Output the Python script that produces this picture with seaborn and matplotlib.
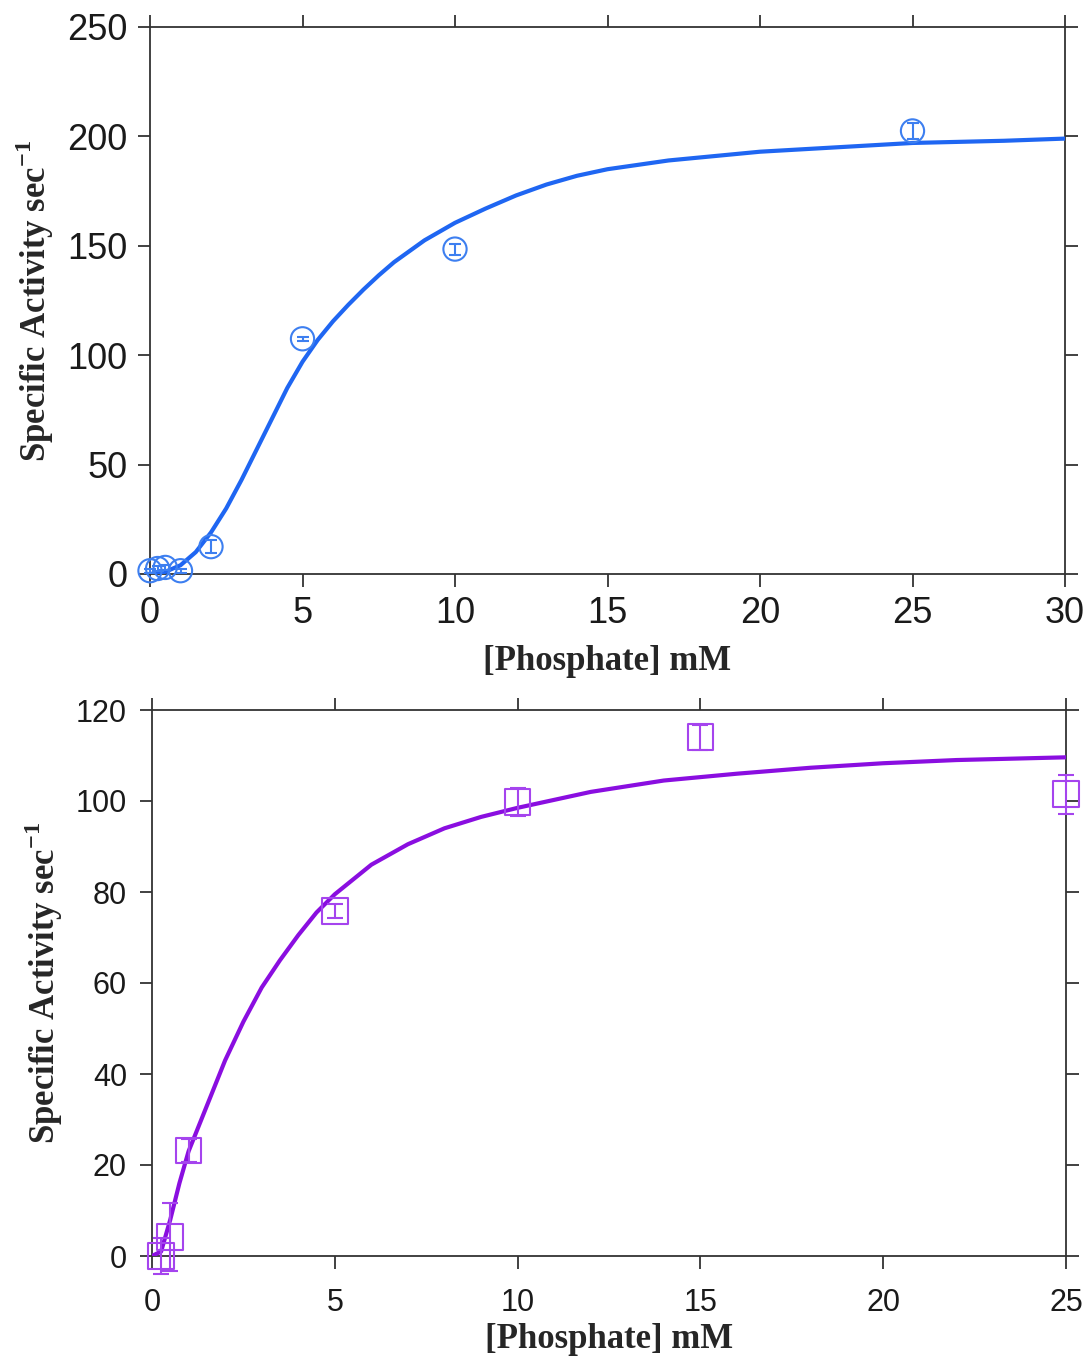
import numpy as np
import pandas as pd
import seaborn as sns
import matplotlib.pyplot as plt

top_x = [0, 0.25, 0.5, 1, 2, 5, 10, 25]
top_y = [1.5, 2.5, 3, 1.5, 12.5, 107.5, 148.5, 202.5]
top_err = [1, 1, 1, 1, 3, 1, 2.5, 3.5]
top_fit_x = [0, 0.5, 1, 1.5, 2, 2.5, 3, 3.5, 4, 4.5, 5, 5.5, 6, 6.5, 7, 7.5, 8, 9, 10,
             11, 12, 13, 14, 15, 17, 20, 22.5, 25, 28, 30]
top_fit_y = [0, 1, 4, 10, 19, 30, 43, 57, 71, 85, 97, 107, 115.5, 123, 130, 136.5, 142.5, 152.5, 160.5,
             167, 173, 178, 182, 185, 189, 193, 195, 197, 198, 199]

# bottom panel
bot_x = [0.25, 0.5, 1, 5, 10, 15, 25]
bot_y = [0, 4.2, 23.2, 75.8, 99.8, 114, 101.5]
bot_err = [4, 7.4, 2.5, 1.5, 3, 2.8, 4.3]
bot_fit_x = [0, 0.25, 0.5, 0.75, 1, 1.5, 2, 2.5, 3, 3.5, 4, 4.5, 5, 6, 7, 8, 9, 10,
             12, 14, 16, 18, 20, 22, 25]
bot_fit_y = [0, 1, 8, 16, 23, 33, 43, 51.5, 59, 65, 70.5, 75.5, 79.5, 86, 90.5, 94, 96.5, 98.5,
             102, 104.5, 106, 107.3, 108.3, 109, 109.6]

sns.set_style("ticks")
plt.rcParams['font.family'] = ['Liberation Sans', 'DejaVu Sans']
plt.rcParams['mathtext.fontset'] = 'custom'
plt.rcParams['mathtext.rm'] = 'Liberation Serif:bold'
plt.rcParams['mathtext.bf'] = 'Liberation Serif:bold'

blue = '#1f66f2'
blue_pt = '#3d7ff0'
purple = '#8a0ee0'
purple_pt = '#a544ee'

W, H = 1087, 1357
fig = plt.figure(figsize=(W / 100, H / 100), dpi=100)
ax1 = fig.add_axes([150 / W, 1 - 574 / H, (1065 - 150) / W, (574 - 27) / H])
ax2 = fig.add_axes([152 / W, 1 - 1256 / H, (1066 - 152) / W, (1256 - 710) / H])

ylab = r'Specific Activity sec$^{-1}$'
label_font = dict(family='Liberation Serif', weight='bold', size=25)


def style_axis(ax, tick_size, pad):
    for s in ax.spines.values():
        s.set_color('#333333')
        s.set_linewidth(1.3)
    ax.tick_params(which='both', direction='out', top=True, right=True,
                   length=9, width=1.3, color='#333333',
                   labelsize=tick_size, labelcolor='#1a1a1a', pad=pad)


# top
df_fit = pd.DataFrame({'x': top_fit_x, 'y': top_fit_y})
sns.lineplot(data=df_fit, x='x', y='y', ax=ax1, color=blue, lw=3, zorder=3)
ax1.errorbar(top_x, top_y, yerr=top_err, fmt='none', ecolor=blue_pt,
             elinewidth=1.5, capsize=4, capthick=1.5, zorder=4, clip_on=False)
sns.scatterplot(x=top_x, y=top_y, ax=ax1, marker='o', s=280, facecolor='none',
                edgecolor=blue_pt, linewidth=1.5, zorder=5, clip_on=False)
ax1.set_xlim(0, 30)
ax1.set_ylim(0, 250)
ax1.set_xticks([0, 5, 10, 15, 20, 25, 30])
ax1.set_yticks([0, 50, 100, 150, 200, 250])
style_axis(ax1, 26, 7)
ax1.set_xlabel('[Phosphate] mM', fontdict=label_font, labelpad=10)
ax1.set_ylabel(ylab, fontdict=label_font, labelpad=8)

# bottom
df_fit2 = pd.DataFrame({'x': bot_fit_x, 'y': bot_fit_y})
sns.lineplot(data=df_fit2, x='x', y='y', ax=ax2, color=purple, lw=3, zorder=3)
ax2.errorbar(bot_x, bot_y, yerr=bot_err, fmt='none', ecolor=purple_pt,
             elinewidth=1.5, capsize=6, capthick=1.5, zorder=4, clip_on=False)
sns.scatterplot(x=bot_x, y=bot_y, ax=ax2, marker='s', s=340, facecolor='none',
                edgecolor=purple_pt, linewidth=1.5, zorder=5, clip_on=False)
ax2.set_xlim(0, 25)
ax2.set_ylim(0, 120)
ax2.set_xticks([0, 5, 10, 15, 20, 25])
ax2.set_yticks([0, 20, 40, 60, 80, 100, 120])
style_axis(ax2, 22, 9)
ax2.tick_params(axis='x', pad=14)
ax2.set_xlabel('[Phosphate] mM', fontdict=label_font, labelpad=4)
ax2.set_ylabel(ylab, fontdict=label_font, labelpad=8)

fig.savefig('out.png', dpi=100, facecolor='white')
